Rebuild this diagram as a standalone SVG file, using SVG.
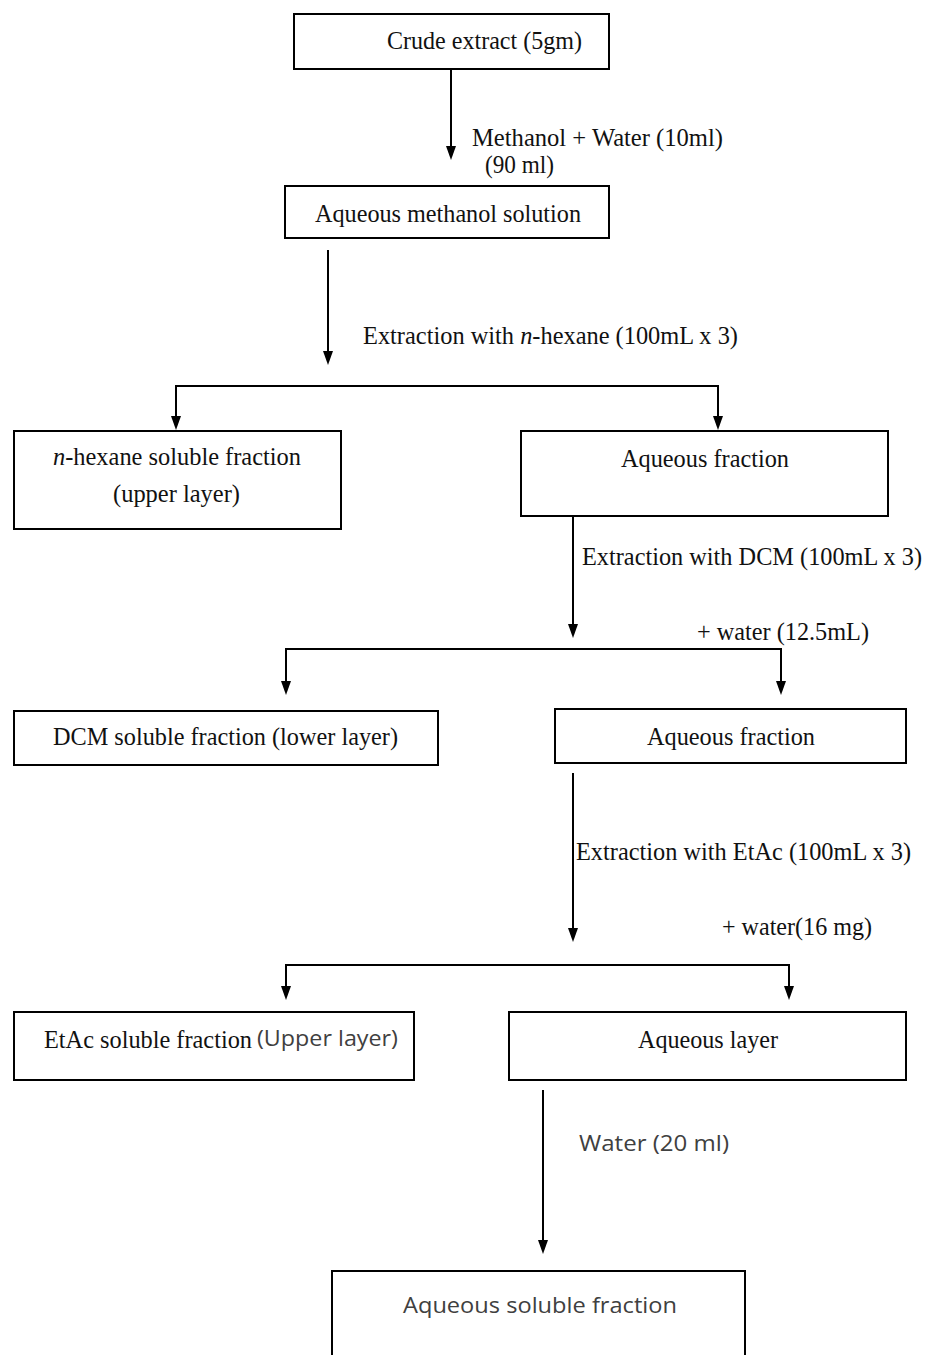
<svg xmlns="http://www.w3.org/2000/svg" width="927" height="1355" viewBox="0 0 927 1355">
<style>
.box{fill:#fff;stroke:#000;stroke-width:2}
.ln{stroke:#000;stroke-width:2;fill:none}
.s{font-family:"Liberation Serif","Times New Roman",serif;font-size:25px;fill:#111}
.ss{font-family:"Open Sans","Noto Sans","Liberation Sans",sans-serif;font-size:21px;fill:#404040}
</style>
<rect width="927" height="1355" fill="#fff"/>

<g id="connectors">
<path class="ln" d="M451,69 V146"/><path d="M446,146 L456,146 L451,160 Z"/>
<path class="ln" d="M328,250 V351"/><path d="M323,351 L333,351 L328,365 Z"/>
<path class="ln" d="M176,416 V386 H718 V416"/><path d="M171,416 L181,416 L176,430 Z"/><path d="M713,416 L723,416 L718,430 Z"/>
<path class="ln" d="M573,510 V624"/><path d="M568,624 L578,624 L573,638 Z"/>
<path class="ln" d="M286,681 V649 H781 V681"/><path d="M281,681 L291,681 L286,695 Z"/><path d="M776,681 L786,681 L781,695 Z"/>
<path class="ln" d="M573,773 V928"/><path d="M568,928 L578,928 L573,942 Z"/>
<path class="ln" d="M286,986 V965 H789 V986"/><path d="M281,986 L291,986 L286,1000 Z"/><path d="M784,986 L794,986 L789,1000 Z"/>
<path class="ln" d="M543,1090 V1240"/><path d="M538,1240 L548,1240 L543,1254 Z"/>
<text class="s" x="472" y="146" textLength="251" lengthAdjust="spacingAndGlyphs">Methanol + Water (10ml)</text>
<text class="s" x="485" y="173" textLength="69" lengthAdjust="spacingAndGlyphs">(90 ml)</text>
<text class="s" x="363" y="344" textLength="375" lengthAdjust="spacingAndGlyphs">Extraction with <tspan font-style="italic">n</tspan>-hexane (100mL x 3)</text>
<text class="s" x="582" y="565" textLength="340" lengthAdjust="spacingAndGlyphs">Extraction with DCM (100mL x 3)</text>
<text class="s" x="697" y="640" textLength="172" lengthAdjust="spacingAndGlyphs">+ water (12.5mL)</text>
<text class="s" x="576" y="860" textLength="335" lengthAdjust="spacingAndGlyphs">Extraction with EtAc (100mL x 3)</text>
<text class="s" x="722" y="935" textLength="150" lengthAdjust="spacingAndGlyphs">+ water(16 mg)</text>
<text class="ss" x="579" y="1151" textLength="150" lengthAdjust="spacingAndGlyphs">Water (20 ml)</text>
</g>

<g id="n1"><rect class="box" x="294" y="14" width="315" height="55"/>
<text class="s" x="387" y="49" textLength="195" lengthAdjust="spacingAndGlyphs">Crude extract (5gm)</text></g>

<g id="n2"><rect class="box" x="285" y="186" width="324" height="52"/>
<text class="s" x="315" y="222" textLength="266" lengthAdjust="spacingAndGlyphs">Aqueous methanol solution</text></g>

<g id="n3"><rect class="box" x="14" y="431" width="327" height="98"/>
<text class="s" x="53" y="465" textLength="248" lengthAdjust="spacingAndGlyphs"><tspan font-style="italic">n</tspan>-hexane soluble fraction</text>
<text class="s" x="113" y="502" textLength="127" lengthAdjust="spacingAndGlyphs">(upper layer)</text></g>

<g id="n4"><rect class="box" x="521" y="431" width="367" height="85"/>
<text class="s" x="621" y="467" textLength="168" lengthAdjust="spacingAndGlyphs">Aqueous fraction</text></g>

<g id="n5"><rect class="box" x="14" y="711" width="424" height="54"/>
<text class="s" x="53" y="745" textLength="345" lengthAdjust="spacingAndGlyphs">DCM soluble fraction (lower layer)</text></g>

<g id="n6"><rect class="box" x="555" y="709" width="351" height="54"/>
<text class="s" x="647" y="745" textLength="168" lengthAdjust="spacingAndGlyphs">Aqueous fraction</text></g>

<g id="n7"><rect class="box" x="14" y="1012" width="400" height="68"/>
<text class="s" x="44" y="1048" textLength="208" lengthAdjust="spacingAndGlyphs">EtAc soluble fraction</text>
<text class="ss" x="257" y="1046" textLength="141" lengthAdjust="spacingAndGlyphs">(Upper layer)</text></g>

<g id="n8"><rect class="box" x="509" y="1012" width="397" height="68"/>
<text class="s" x="638" y="1048" textLength="140" lengthAdjust="spacingAndGlyphs">Aqueous layer</text></g>

<g id="n9"><rect class="box" x="332" y="1271" width="413" height="110"/>
<text class="ss" x="403" y="1313" textLength="274" lengthAdjust="spacingAndGlyphs">Aqueous soluble fraction</text></g>
</svg>
